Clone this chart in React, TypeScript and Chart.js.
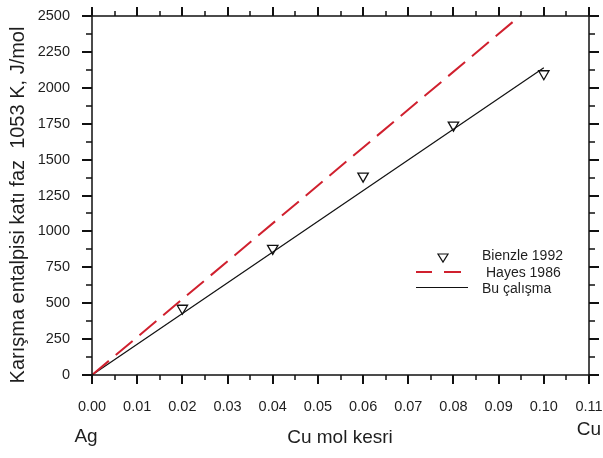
import React, { useEffect, useRef } from "react";
import { Chart, registerables } from "chart.js";

Chart.register(...registerables);

const FONT = '"Liberation Sans", Arial, Helvetica, sans-serif';

const bienzleX = [0.02, 0.04, 0.06, 0.08, 0.1];
const bienzleY = [465, 882, 1385, 1740, 2098];
const hayesX = [0, 0.1];
const hayesY = [0, 2640];
const buX = [0, 0.1];
const buY = [0, 2140];

const xTickLabels = ["0.00", "0.01", "0.02", "0.03", "0.04", "0.05", "0.06", "0.07", "0.08", "0.09", "0.10", "0.11"];
const yTickLabels = ["0", "250", "500", "750", "1000", "1250", "1500", "1750", "2000", "2250", "2500"];

const legendNames = ["Bienzle 1992", "Hayes 1986", "Bu çalışma"];
const yTitle = "Karışma entalpisi katı faz  1053 K, J/mol";
const xTitle = "Cu mol kesri";
const leftEndLabel = "Ag";
const rightEndLabel = "Cu";

const RED = "#d0202e";
const TEXT = "#1e1e1e";

const decorPlugin = {
  id: "decor",
  afterDraw(chart: any) {
    const ctx = chart.ctx;
    const { left, right, top, bottom } = chart.chartArea;
    const xs = chart.scales.x;
    const ys = chart.scales.y;
    ctx.save();
    ctx.strokeStyle = "#111";
    ctx.lineWidth = 1.5;
    ctx.strokeRect(left, top, right - left, bottom - top);
    for (let i = 0; i <= 22; i++) {
      const v = i * 0.005;
      const px = Math.round(xs.getPixelForValue(v));
      const major = i % 2 === 0;
      const len = major ? 9 : 5;
      ctx.lineWidth = major ? 2 : 1.5;
      ctx.beginPath();
      ctx.moveTo(px, bottom);
      ctx.lineTo(px, bottom + len);
      ctx.moveTo(px, top);
      ctx.lineTo(px, top - len);
      ctx.stroke();
    }
    for (let i = 0; i <= 20; i++) {
      const v = i * 125;
      const py = Math.round(ys.getPixelForValue(v));
      const major = i % 2 === 0;
      const len = major ? 10 : 6;
      ctx.lineWidth = major ? 2 : 1.5;
      ctx.beginPath();
      ctx.moveTo(left, py);
      ctx.lineTo(left - len, py);
      ctx.moveTo(right, py);
      ctx.lineTo(right + len, py);
      ctx.stroke();
    }
    ctx.fillStyle = TEXT;
    ctx.font = `20px ${FONT}`;
    ctx.textAlign = "center";
    ctx.textBaseline = "middle";
    ctx.save();
    ctx.translate(18, 205);
    ctx.rotate(-Math.PI / 2);
    ctx.fillText(yTitle, 0, 0);
    ctx.restore();
    ctx.font = `19px ${FONT}`;
    ctx.fillText(xTitle, 340, 438);
    ctx.fillText(leftEndLabel, 86, 437);
    ctx.fillText(rightEndLabel, 589, 430);
    ctx.font = `14px ${FONT}`;
    ctx.textAlign = "left";
    ctx.fillText(legendNames[0], 482, 256);
    ctx.fillText(legendNames[1], 486, 273);
    ctx.fillText(legendNames[2], 482, 289);
    ctx.strokeStyle = "#111";
    ctx.lineWidth = 1.2;
    ctx.beginPath();
    ctx.moveTo(438, 254);
    ctx.lineTo(448, 254);
    ctx.lineTo(443, 262);
    ctx.closePath();
    ctx.stroke();
    ctx.strokeStyle = RED;
    ctx.lineWidth = 2;
    ctx.beginPath();
    ctx.moveTo(416, 272);
    ctx.lineTo(432, 272);
    ctx.moveTo(444, 272);
    ctx.lineTo(461, 272);
    ctx.stroke();
    ctx.strokeStyle = "#111";
    ctx.lineWidth = 1;
    ctx.beginPath();
    ctx.moveTo(416, 287.5);
    ctx.lineTo(468, 287.5);
    ctx.stroke();
    ctx.restore();
  },
};

export default function App() {
  const ref = useRef<HTMLCanvasElement | null>(null);
  useEffect(() => {
    if (!ref.current) return;
    const chart = new Chart(ref.current, {
      type: "scatter",
      data: {
        datasets: [
          {
            label: legendNames[1],
            data: hayesX.map((x, i) => ({ x, y: hayesY[i] })),
            showLine: true,
            borderColor: RED,
            borderWidth: 2,
            borderDash: [22, 9],
            pointRadius: 0,
            fill: false,
          },
          {
            label: legendNames[2],
            data: buX.map((x, i) => ({ x, y: buY[i] })),
            showLine: true,
            borderColor: "#111",
            borderWidth: 1.2,
            pointRadius: 0,
            fill: false,
          },
          {
            label: legendNames[0],
            data: bienzleX.map((x, i) => ({ x, y: bienzleY[i] })),
            showLine: false,
            pointStyle: "triangle",
            rotation: 180,
            pointRadius: 6,
            pointBorderColor: "#111",
            pointBackgroundColor: "rgba(255,255,255,0)",
            pointBorderWidth: 1.3,
            borderColor: "#111",
            backgroundColor: "rgba(255,255,255,0)",
          } as any,
        ],
      },
      options: {
        responsive: false,
        animation: false,
        devicePixelRatio: 1,
        layout: { padding: { top: 16, right: 14, left: 0, bottom: 0 } },
        plugins: { legend: { display: false }, tooltip: { enabled: false } },
        scales: {
          x: {
            type: "linear",
            min: 0,
            max: 0.11,
            afterFit: (s: any) => {
              s.height = 83;
              s.paddingLeft = 0;
              s.paddingRight = 0;
            },
            afterBuildTicks: (s: any) => {
              s.ticks = xTickLabels.map((_, i) => ({ value: i * 0.01 }));
            },
            ticks: {
              autoSkip: false,
              maxRotation: 0,
              padding: 15,
              color: TEXT,
              font: { family: FONT, size: 14.5 },
              callback: (_v: any, i: number) => xTickLabels[i],
            },
            grid: { display: false },
            border: { display: false },
          },
          y: {
            type: "linear",
            min: 0,
            max: 2500,
            afterFit: (s: any) => {
              s.width = 92;
              s.paddingTop = 0;
              s.paddingBottom = 0;
            },
            afterBuildTicks: (s: any) => {
              s.ticks = yTickLabels.map((_, i) => ({ value: i * 250 }));
            },
            ticks: {
              autoSkip: false,
              padding: 14,
              color: TEXT,
              font: { family: FONT, size: 14.5 },
              callback: (_v: any, i: number) => yTickLabels[i],
            },
            grid: { display: false },
            border: { display: false },
          },
        },
      } as any,
      plugins: [decorPlugin],
    });
    return () => chart.destroy();
  }, []);
  return (
    <div style={{ position: "fixed", left: 0, top: 0, width: 603, height: 458, background: "#fff" }}>
      <canvas ref={ref} width={603} height={458} />
    </div>
  );
}
